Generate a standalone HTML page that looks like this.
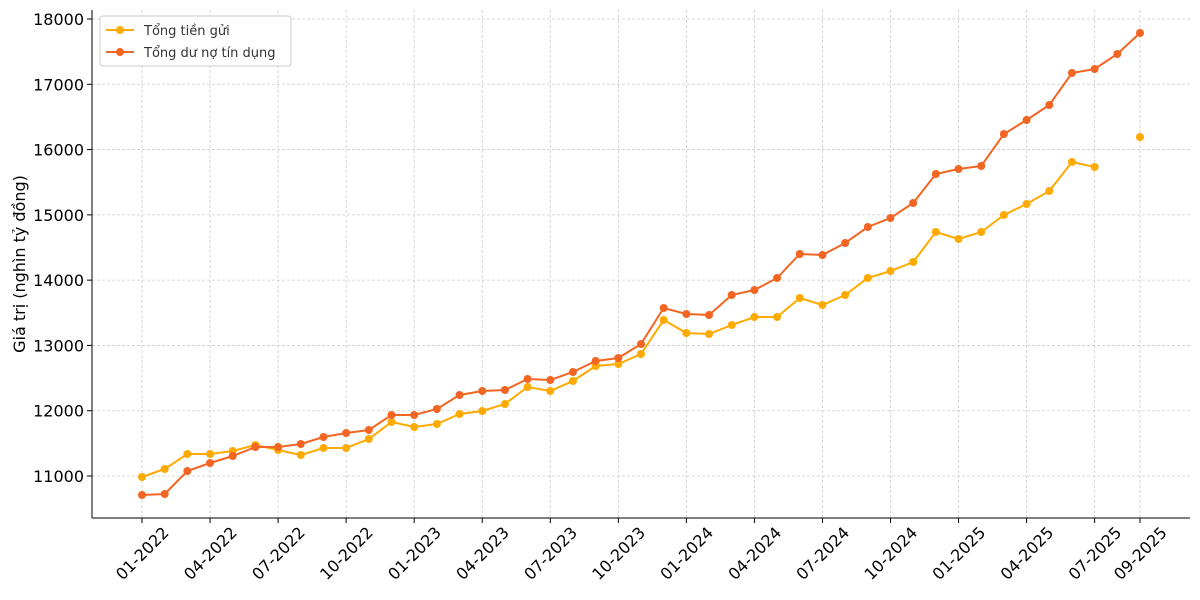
<!DOCTYPE html>
<html><head><meta charset="utf-8"><style>
body{margin:0;background:#fff;}
svg text{font-family:"DejaVu Sans","Liberation Sans",sans-serif;}
</style></head><body>
<svg width="1200" height="595" xmlns="http://www.w3.org/2000/svg">
<rect width="1200" height="595" fill="#fff"/>
<g id="grid" stroke="#cccccc" stroke-dasharray="3,2" stroke-width="0.8"></g>
<line x1="92" y1="10" x2="92" y2="518" stroke="#000"/>
<line x1="92" y1="518" x2="1190" y2="518" stroke="#000"/>
<g id="ticks"></g>
<text x="25" y="264" font-size="16" transform="rotate(-90 25 264)" text-anchor="middle">Giá trị (nghìn tỷ đồng)</text>
<g id="series"></g>
<rect x="100" y="16" width="191" height="50" fill="#fff" stroke="#ccc" rx="3"/>
<line x1="106" y1="30" x2="134" y2="30" stroke="#FFAA00" stroke-width="2"/><circle cx="120" cy="30" r="4" fill="#FFAA00"/>
<text x="144" y="35" font-size="13" fill="#333">Tổng tiền gửi</text>
<line x1="106" y1="52" x2="134" y2="52" stroke="#F26522" stroke-width="2"/><circle cx="120" cy="52" r="4" fill="#F26522"/>
<text x="144" y="57" font-size="13" fill="#333">Tổng dư nợ tín dụng</text>
</svg>
<script>
const ns="http://www.w3.org/2000/svg";
function el(p,t,a,txt){const e=document.createElementNS(ns,t);for(const k in a)e.setAttribute(k,a[k]);if(txt)e.textContent=txt;p.appendChild(e);return e;}
const g=document.getElementById("grid"),tk=document.getElementById("ticks"),s=document.getElementById("series");
const X=i=>142+i*998/44, Y=v=>476-(v-11000)*457/7000;
for(let v=11000;v<=18000;v+=1000){const y=Y(v);el(g,"line",{x1:92,x2:1190,y1:y,y2:y});el(tk,"line",{x1:87,x2:92,y1:y,y2:y,stroke:"#000"});el(tk,"text",{x:84,y:y+6,"font-size":16,"text-anchor":"end"},v);}
const labs=[[0,"01-2022"],[3,"04-2022"],[6,"07-2022"],[9,"10-2022"],[12,"01-2023"],[15,"04-2023"],[18,"07-2023"],[21,"10-2023"],[24,"01-2024"],[27,"04-2024"],[30,"07-2024"],[33,"10-2024"],[36,"01-2025"],[39,"04-2025"],[42,"07-2025"],[44,"09-2025"]];
for(const[i,l]of labs){const x=X(i);el(g,"line",{x1:x,x2:x,y1:10,y2:518});el(tk,"line",{x1:x,x2:x,y1:518,y2:523,stroke:"#000"});el(tk,"text",{x:x,y:559,"font-size":16,"text-anchor":"middle",transform:`rotate(-45 ${x} 553)`},l);}
const dep=[477,469,454,454,451,445,450,455,448,448,439,422,427,424,414,411,404,387,391,381,366,364,354,320,333,334,325,317,317,298,305,295,278,271,262,232,239,232,215,204,191,162,167];
const cre=[495,494,471,463,456,447,447,444,437,433,430,415,415,409,395,391,390,379,380,372,361,358,344,308,314,315,295,290,278,254,255,243,227,218,203,174,169,166,134,120,105,73,69,54,33];
function draw(arr,c){el(s,"polyline",{points:arr.map((y,i)=>X(i)+","+y).join(" "),fill:"none",stroke:c,"stroke-width":2});arr.forEach((y,i)=>el(s,"circle",{cx:X(i),cy:y,r:4,fill:c}));}
draw(dep,"#FFAA00");draw(cre,"#F26522");
el(s,"circle",{cx:X(44),cy:137,r:4,fill:"#FFAA00"});
</script>
</body></html>
